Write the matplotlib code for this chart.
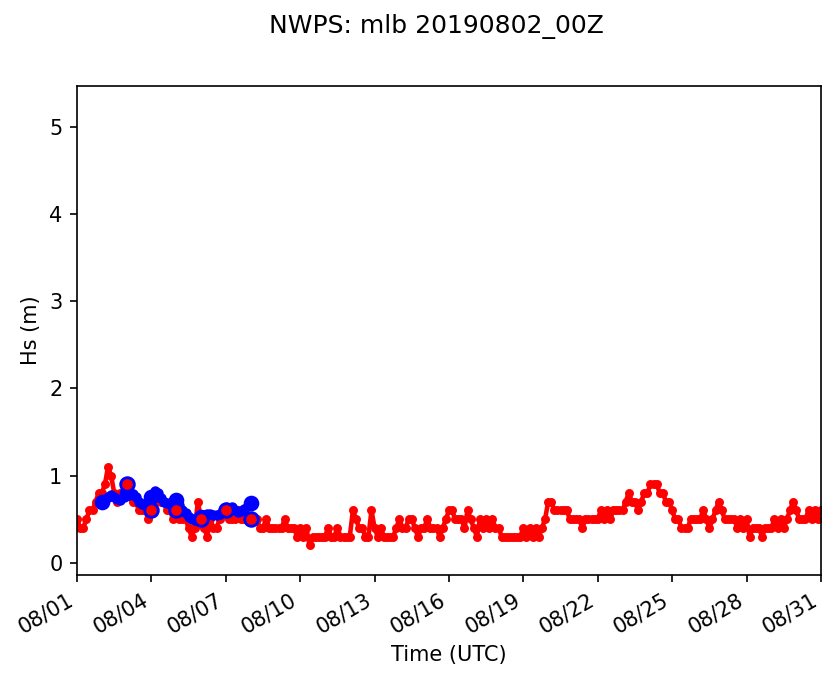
import matplotlib
matplotlib.use("Agg")
import matplotlib.pyplot as plt
import matplotlib.dates as mdates
import pandas as pd

# observed Hs (m), 3-hourly from 2019-08-01 00Z
obs_hs = [
    0.5, 0.4, 0.4, 0.5, 0.6, 0.6, 0.7, 0.8,
    0.8, 0.9, 1.1, 1.0, 0.8, 0.7, 0.8, 0.8,
    0.9, 0.8, 0.7, 0.7, 0.6, 0.6, 0.6, 0.5,
    0.6, 0.7, 0.8, 0.7, 0.7, 0.6, 0.6, 0.5,
    0.6, 0.5, 0.5, 0.5, 0.4, 0.3, 0.4, 0.7,
    0.5, 0.4, 0.3, 0.5, 0.4, 0.4, 0.5, 0.6,
    0.6, 0.5, 0.5, 0.5, 0.6, 0.5, 0.5, 0.5,
    0.5, 0.5, 0.5, 0.4, 0.4, 0.5, 0.4, 0.4,
    0.4, 0.4, 0.4, 0.5, 0.4, 0.4, 0.4, 0.3,
    0.4, 0.3, 0.4, 0.2, 0.3, 0.3, 0.3, 0.3,
    0.3, 0.4, 0.3, 0.3, 0.4, 0.3, 0.3, 0.3,
    0.3, 0.6, 0.5, 0.4, 0.4, 0.3, 0.3, 0.6,
    0.4, 0.3, 0.4, 0.3, 0.3, 0.3, 0.3, 0.4,
    0.5, 0.4, 0.4, 0.5, 0.5, 0.4, 0.3, 0.4,
    0.4, 0.5, 0.4, 0.4, 0.4, 0.3, 0.4, 0.5,
    0.6, 0.6, 0.5, 0.5, 0.5, 0.4, 0.6, 0.5,
    0.4, 0.3, 0.5, 0.4, 0.5, 0.4, 0.5, 0.4,
    0.4, 0.3, 0.3, 0.3, 0.3, 0.3, 0.3, 0.3,
    0.4, 0.3, 0.4, 0.3, 0.4, 0.3, 0.4, 0.5,
    0.7, 0.7, 0.6, 0.6, 0.6, 0.6, 0.6, 0.5,
    0.5, 0.5, 0.5, 0.4, 0.5, 0.5, 0.5, 0.5,
    0.5, 0.6, 0.5, 0.6, 0.5, 0.6, 0.6, 0.6,
    0.6, 0.7, 0.8, 0.7, 0.7, 0.6, 0.7, 0.8,
    0.8, 0.9, 0.9, 0.9, 0.8, 0.8, 0.7, 0.7,
    0.6, 0.5, 0.5, 0.4, 0.4, 0.4, 0.5, 0.5,
    0.5, 0.5, 0.6, 0.5, 0.4, 0.5, 0.6, 0.7,
    0.6, 0.5, 0.5, 0.5, 0.5, 0.4, 0.5, 0.4,
    0.5, 0.3, 0.4, 0.4, 0.4, 0.3, 0.4, 0.4,
    0.4, 0.5, 0.4, 0.5, 0.4, 0.5, 0.6, 0.7,
    0.6, 0.5, 0.5, 0.5, 0.6, 0.5, 0.6, 0.5,
    0.6,
]

# NWPS model Hs (m), 3-hourly from 2019-08-02 00Z
mod_hs = [
    0.70, 0.72, 0.76, 0.78, 0.76, 0.73, 0.72, 0.75,
    0.80, 0.80, 0.79, 0.75, 0.70, 0.67, 0.66, 0.70,
    0.76, 0.82, 0.80, 0.74, 0.70, 0.68, 0.67, 0.69,
    0.72, 0.66, 0.61, 0.57, 0.53, 0.50, 0.49, 0.50,
    0.52, 0.55, 0.56, 0.56, 0.55, 0.55, 0.56, 0.58,
    0.61, 0.63, 0.64, 0.61, 0.58, 0.59, 0.62, 0.65,
    0.68,
]

# observations matched to daily model output
match_days = ["2019-08-03", "2019-08-04", "2019-08-05", "2019-08-06", "2019-08-07", "2019-08-08"]
match_hs = [0.9, 0.6, 0.6, 0.5, 0.6, 0.5]

obs_t = pd.date_range("2019-08-01", periods=len(obs_hs), freq="3h")
mod_t = pd.date_range("2019-08-02", periods=len(mod_hs), freq="3h")
match_t = pd.to_datetime(match_days)

fig = plt.figure(figsize=(839 / 150, 681 / 150), dpi=150)
ax = fig.add_axes([0.0918, 0.1557, 0.8867, 0.718])

ax.plot(obs_t, obs_hs, color="red", lw=2.2, marker="o", ms=3.3, zorder=2)
ax.plot(mod_t, mod_hs, color="blue", lw=3, marker="o", ms=4, zorder=3)
ax.plot(mod_t[::8], mod_hs[::8], "o", color="blue", ms=6.5, zorder=4)
ax.plot(match_t, match_hs, "o", mfc="red", mec="blue", mew=1.4, ms=6.5, zorder=5)

ax.set_xlim(pd.Timestamp("2019-08-01"), pd.Timestamp("2019-08-31"))
ax.set_ylim(-0.14, 5.47)
ax.set_yticks([0, 1, 2, 3, 4, 5])
ax.xaxis.set_major_locator(mdates.DayLocator(bymonthday=range(1, 32, 3)))
ax.xaxis.set_major_formatter(mdates.DateFormatter("%m/%d"))
for lbl in ax.get_xticklabels():
    lbl.set_rotation(30)
    lbl.set_ha("right")

ax.set_xlabel("Time (UTC)")
ax.set_ylabel("Hs (m)")
fig.suptitle("NWPS: mlb 20190802_00Z", fontsize=12, x=0.52, y=0.98)

fig.savefig("out.png", dpi=150)
